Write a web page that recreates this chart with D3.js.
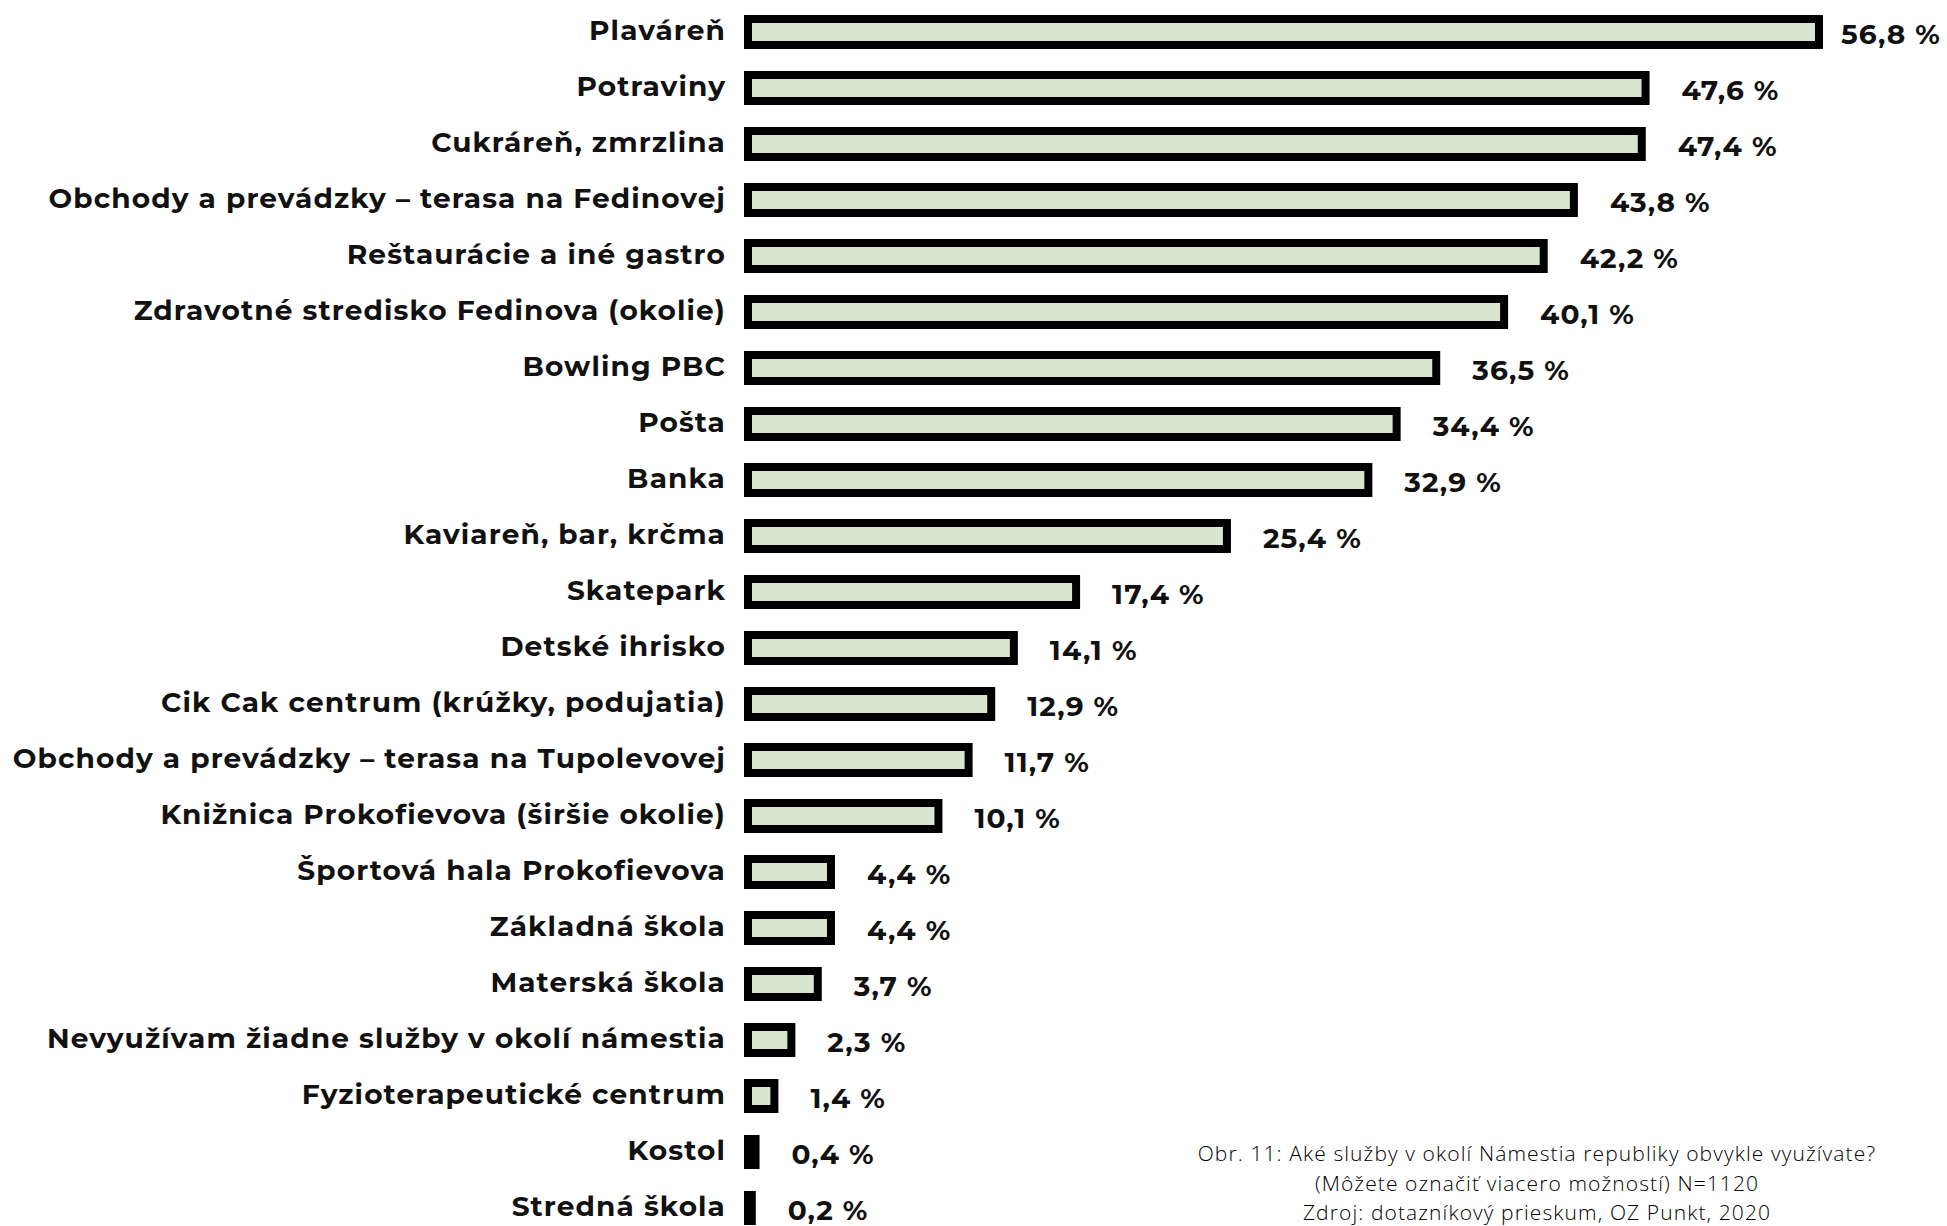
<!DOCTYPE html>
<html>
<head>
<meta charset="utf-8">
<script src="https://cdn.jsdelivr.net/npm/d3@7"></script>
<style>
    body { margin: 0; background: #fff; }
    svg { display: block; }
</style>
</head>
<body>
<div class="container-barchart"></div>
<script>
// data
var categories = [
    "Plaváreň", "Potraviny", "Cukráreň, zmrzlina",
    "Obchody a prevádzky – terasa na Fedinovej", "Reštaurácie a iné gastro",
    "Zdravotné stredisko Fedinova (okolie)", "Bowling PBC", "Pošta", "Banka",
    "Kaviareň, bar, krčma", "Skatepark", "Detské ihrisko",
    "Cik Cak centrum (krúžky, podujatia)", "Obchody a prevádzky – terasa na Tupolevovej",
    "Knižnica Prokofievova (širšie okolie)", "Športová hala Prokofievova",
    "Základná škola", "Materská škola", "Nevyužívam žiadne služby v okolí námestia",
    "Fyzioterapeutické centrum", "Kostol", "Stredná škola"
];
var values = [56.8, 47.6, 47.4, 43.8, 42.2, 40.1, 36.5, 34.4, 32.9, 25.4, 17.4,
    14.1, 12.9, 11.7, 10.1, 4.4, 4.4, 3.7, 2.3, 1.4, 0.4, 0.2];
var captionLines = [
    "Obr. 11: Aké služby v okolí Námestia republiky obvykle využívate?",
    "(Môžete označiť viacero možností) N=1120",
    "Zdroj: dotazníkový prieskum, OZ Punkt, 2020"
];

var w = 1947, h = 1226;
var data = categories.map(function (c, i) { return { name: c, value: values[i] }; });

var svg = d3.select(".container-barchart").append("svg")
    .attr("width", w)
    .attr("height", h);

// Scale functions
var xScale = d3.scaleLinear()
    .domain([0, 56.8])
    .range([748, 1819]);

var yScale = d3.scaleBand()
    .domain(categories)
    .range([4, 1236]);

var fontBold = "Montserrat, 'Open Sans', sans-serif";

// bars
svg.selectAll("rect.bar")
    .data(data)
    .enter()
    .append("rect")
    .attr("class", "bar")
    .attr("x", xScale(0))
    .attr("y", function (d) { return yScale(d.name) + yScale.bandwidth() / 2 - 13; })
    .attr("width", function (d) { return xScale(d.value) - xScale(0); })
    .attr("height", 26)
    .attr("fill", "#d8e6cf")
    .attr("stroke", "#000")
    .attr("stroke-width", 8);

// category labels
svg.selectAll("text.cat")
    .data(data)
    .enter()
    .append("text")
    .attr("class", "cat")
    .attr("x", 726)
    .attr("y", function (d) { return yScale(d.name) + yScale.bandwidth() / 2 - 2; })
    .attr("dy", "0.35em")
    .attr("text-anchor", "end")
    .style("font-family", fontBold)
    .style("font-weight", 700)
    .style("font-size", "28px")
    .style("letter-spacing", "1.1px")
    .style("fill", "#111")
    .text(function (d) { return d.name; });

// value labels
svg.selectAll("text.val")
    .data(data)
    .enter()
    .append("text")
    .attr("class", "val")
    .attr("y", function (d) { return yScale(d.name) + yScale.bandwidth() / 2 + 2; })
    .attr("dy", "0.35em")
    .style("font-family", fontBold)
    .style("font-weight", 700)
    .style("font-size", "28px")
    .style("letter-spacing", "1.1px")
    .style("fill", "#111")
    .text(function (d) { return d3.format(".1f")(d.value).replace(".", ",") + " %"; })
    .attr("x", function (d) {
        var tw = this.getComputedTextLength();
        var x = xScale(d.value) + 4 + 32;
        return Math.min(x, w - 6 - tw);
    });

// caption
svg.append("g")
    .selectAll("text")
    .data(captionLines)
    .enter()
    .append("text")
    .attr("x", 1537)
    .attr("y", function (d, i) { return 1154 + i * 29.5; })
    .attr("dy", "0.35em")
    .attr("text-anchor", "middle")
    .style("font-family", "'Open Sans', sans-serif")
    .style("font-weight", 300)
    .style("font-size", "21px")
    .style("letter-spacing", "1.1px")
    .style("fill", "#000")
    .text(function (d) { return d; });
</script>
</body>
</html>
